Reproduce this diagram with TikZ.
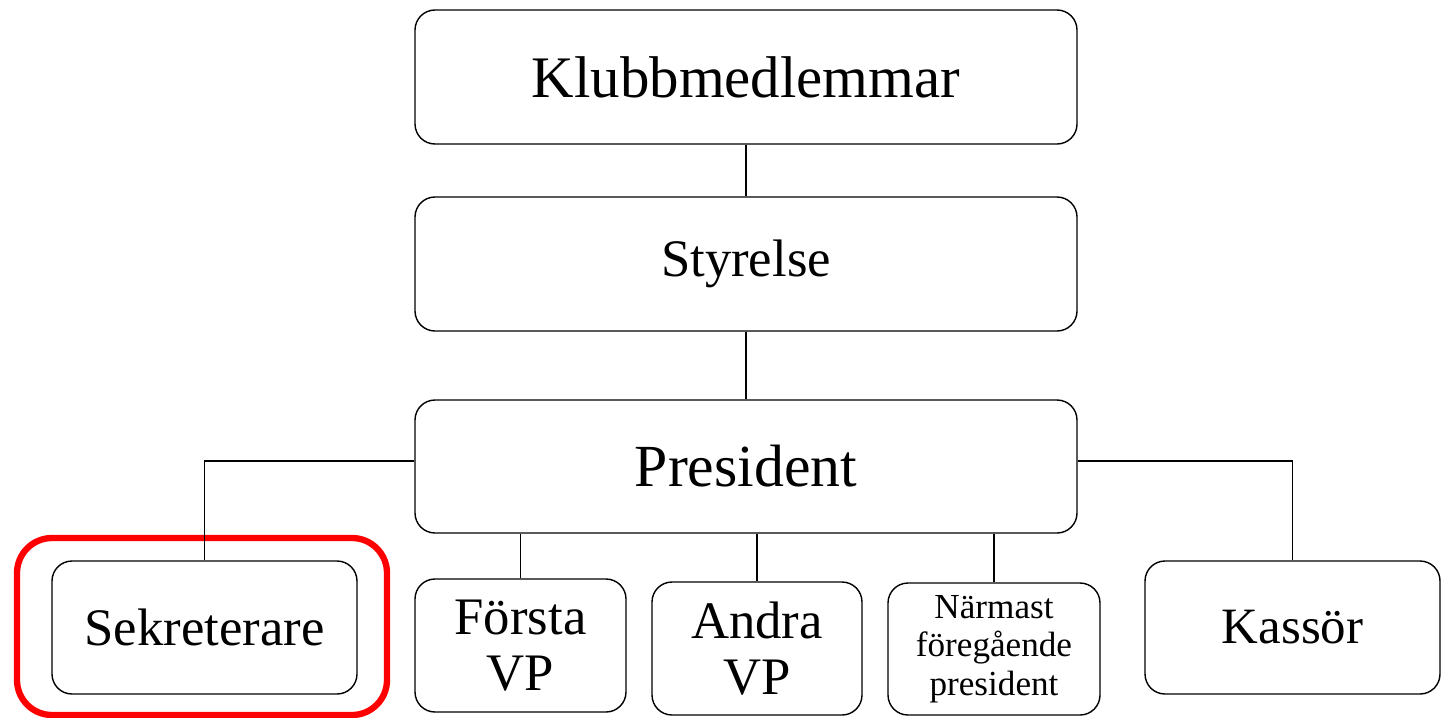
\documentclass[tikz,border=0pt]{standalone}
\usepackage{fontspec}
\setmainfont{Liberation Serif}
\tikzset{
  box/.style={draw, line width=0.8pt, rounded corners=0.4cm, align=center,
    inner sep=0pt, font=\fontsize{30}{32}\selectfont},
  link/.style={line width=0.8pt}
}
\begin{document}
\begin{tikzpicture}
  \useasboundingbox (0,0) rectangle (28.82,-14.34);
  \node[box, minimum width=13.24cm, minimum height=2.68cm,
    font=\fontsize{33.5}{36}\selectfont] (klubb) at (14.92,-1.54) {Klubbmedlemmar};
  \node[box, minimum width=13.24cm, minimum height=2.68cm] (styrelse) at (14.92,-5.28) {Styrelse};
  \node[box, minimum width=13.24cm, minimum height=2.66cm,
    font=\fontsize{34}{36}\selectfont] (president) at (14.92,-9.33) {President};
  \node[box, minimum width=6.1cm, minimum height=2.66cm] (sekr) at (4.09,-12.55) {Sekreterare};
  \node[box, minimum width=4.22cm, minimum height=2.66cm] (forsta) at (10.41,-12.91) {Första\\VP};
  \node[box, minimum width=4.2cm, minimum height=2.66cm] (andra) at (15.14,-12.97) {Andra\\VP};
  \node[box, minimum width=4.24cm, minimum height=2.64cm,
    font=\fontsize{20}{22}\selectfont] (narmast) at (19.88,-12.98) {Närmast\\föregående\\president};
  \node[box, minimum width=5.9cm, minimum height=2.66cm,
    font=\fontsize{29}{32}\selectfont] (kassor) at (25.85,-12.55) {Kassör};
  % red frame round the secretary
  \draw[red, line width=3.6pt, rounded corners=0.7cm] (0.34,-10.76) rectangle (7.74,-14.3);
  % connectors
  \draw[link] (klubb) -- (styrelse);
  \draw[link] (styrelse) -- (president);
  \draw[link] ([yshift=1.1mm]president.west) -| (sekr.north);
  \draw[link] ([yshift=1.1mm]president.east) -| (kassor.north);
  \draw[link] (forsta.north) -- (forsta.north |- president.south);
  \draw[link] (andra.north) -- (andra.north |- president.south);
  \draw[link] (narmast.north) -- (narmast.north |- president.south);
\end{tikzpicture}
\end{document}
